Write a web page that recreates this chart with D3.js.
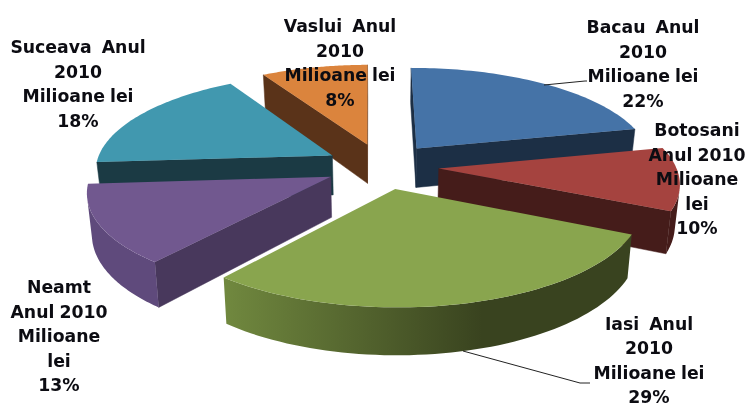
<!DOCTYPE html>
<html><head><meta charset="utf-8">
<script src="https://cdn.jsdelivr.net/npm/d3@7"></script>
<style>html,body{margin:0;padding:0;background:#fff;overflow:hidden}svg{display:block;filter:blur(0.45px)}
text{font-family:"DejaVu Sans",sans-serif;font-weight:700;font-size:17.3px;fill:#0c0c12;text-anchor:middle;word-spacing:-1px}</style>
</head><body>
<svg id="c" width="745" height="407"></svg>
<script>
// Data
const categories = ["Bacau","Botosani","Iasi","Neamt","Suceava","Vaslui"];
const shares = [21.6,10.4,29,13,17.6,8.4];
const labelLines = [
  ["Bacau  Anul","2010","Milioane lei","22%"],
  ["Botosani","Anul 2010","Milioane","lei","10%"],
  ["Iasi  Anul","2010","Milioane lei","29%"],
  ["Neamt","Anul 2010","Milioane","lei","13%"],
  ["Suceava  Anul","2010","Milioane lei","18%"],
  ["Vaslui  Anul","2010","Milioane lei","8%"]
];
// Style and layout
const topColors  = ["#4573a7","#a5433f","#89a54e","#71588f","#4198af","#db843d"];
const wallColors = ["#1c2f45","#451c1a","#39431f","#48385c","#1b3a44","#5a3319"];
const arcLight   = ["#2a4668","#5a2422","#71893f","#5f4a7c","#2a5664","#7a4a20"];
const labelX = [643,697,649,59,78,340];
const labelY = [33,136,329.5,293,53,32];
const lineStep = 24.5;
const drawOrder = [5,0,4,1,3,2];
const leaders = [
  [[544,85],[585,81],[587,81]],
  [[463,351],[580,383],[590,383]]
];
const cx=382, cy=166, Rx=237, Ry=95.7, k=0.1336, explode=0.24, depth=40, bottomShrink=0.983;
const rotation=-0.4*Math.PI/180;

const svg = d3.select("#c");
const defs = svg.append("defs");
const pie = d3.pie().sort(null).value(d=>d).startAngle(rotation).endAngle(rotation+2*Math.PI);
const arcs = pie(shares);

// Perspective mapping of the tilted pie plane; z=0 top face, z=1 bottom face
function project(a, r, mid, z){
  const u = explode*Math.sin(mid) + r*Math.sin(a);
  const v = -explode*Math.cos(mid) - r*Math.cos(a);
  const s = 1/(1-k*v);
  const f = z ? bottomShrink : 1;
  return [cx + Rx*u*s*f, cy + Ry*v*s + z*depth*s];
}
const line = d3.line();
const area = pts => { let t=0; pts.forEach((p,i)=>{const q=pts[(i+1)%pts.length]; t+=p[0]*q[1]-q[0]*p[1];}); return t/2; };

drawOrder.forEach(i=>{
  const d = arcs[i], mid=(d.startAngle+d.endAngle)/2;
  const g = svg.append("g").attr("data-name",categories[i]);
  const steps = d3.range(0,61).map(t=>d.startAngle+(d.endAngle-d.startAngle)*t/60);
  const wallFill = wallColors[i];
  // radial walls
  [[d.startAngle,1],[d.endAngle,-1]].forEach(([a,side])=>{
    const q=[project(a,0,mid,0),project(a,1,mid,0),project(a,1,mid,1),project(a,0,mid,1)];
    if(area(q)*side<0) g.append("path").attr("d",line(q)+"Z").attr("fill",wallFill).attr("stroke",wallFill).attr("stroke-width",.5);
  });
  // outer rim: only the run of the arc that faces the viewer, with a gradient along x
  const front = steps.filter((a,j)=>{
    const b=steps[Math.min(j+1,60)], c=steps[Math.max(j-1,0)];
    const p=a===b?c:a, n=a===b?a:b;
    return area([project(p,1,mid,0),project(n,1,mid,0),project(n,1,mid,1),project(p,1,mid,1)])<0;
  });
  if(front.length>1){
    const id="rim"+i;
    const grad=defs.append("linearGradient").attr("id",id).attr("gradientUnits","userSpaceOnUse")
      .attr("x1",cx-160).attr("x2",cx+100).attr("y1",0).attr("y2",0);
    grad.append("stop").attr("offset",0).attr("stop-color",arcLight[i]);
    grad.append("stop").attr("offset",1).attr("stop-color",wallFill);
    const q=[...front.map(a=>project(a,1,mid,0)),...front.slice().reverse().map(a=>project(a,1,mid,1))];
    g.append("path").attr("d",line(q)+"Z").attr("fill","url(#"+id+")");
  }
  // top face
  const face=[project(0,0,mid,0),...steps.map(a=>project(a,1,mid,0))];
  g.append("path").attr("d",line(face)+"Z").attr("fill",topColors[i]);
});

leaders.forEach(p=>svg.append("path").attr("d",line(p)).attr("fill","none").attr("stroke","#222").attr("stroke-width",1));

labelLines.forEach((lines,i)=>{
  const t=svg.append("text");
  lines.forEach((s,j)=>t.append("tspan").attr("x",labelX[i]).attr("y",labelY[i]+j*lineStep).attr("xml:space","preserve").text(s));
});
</script>
</body></html>
